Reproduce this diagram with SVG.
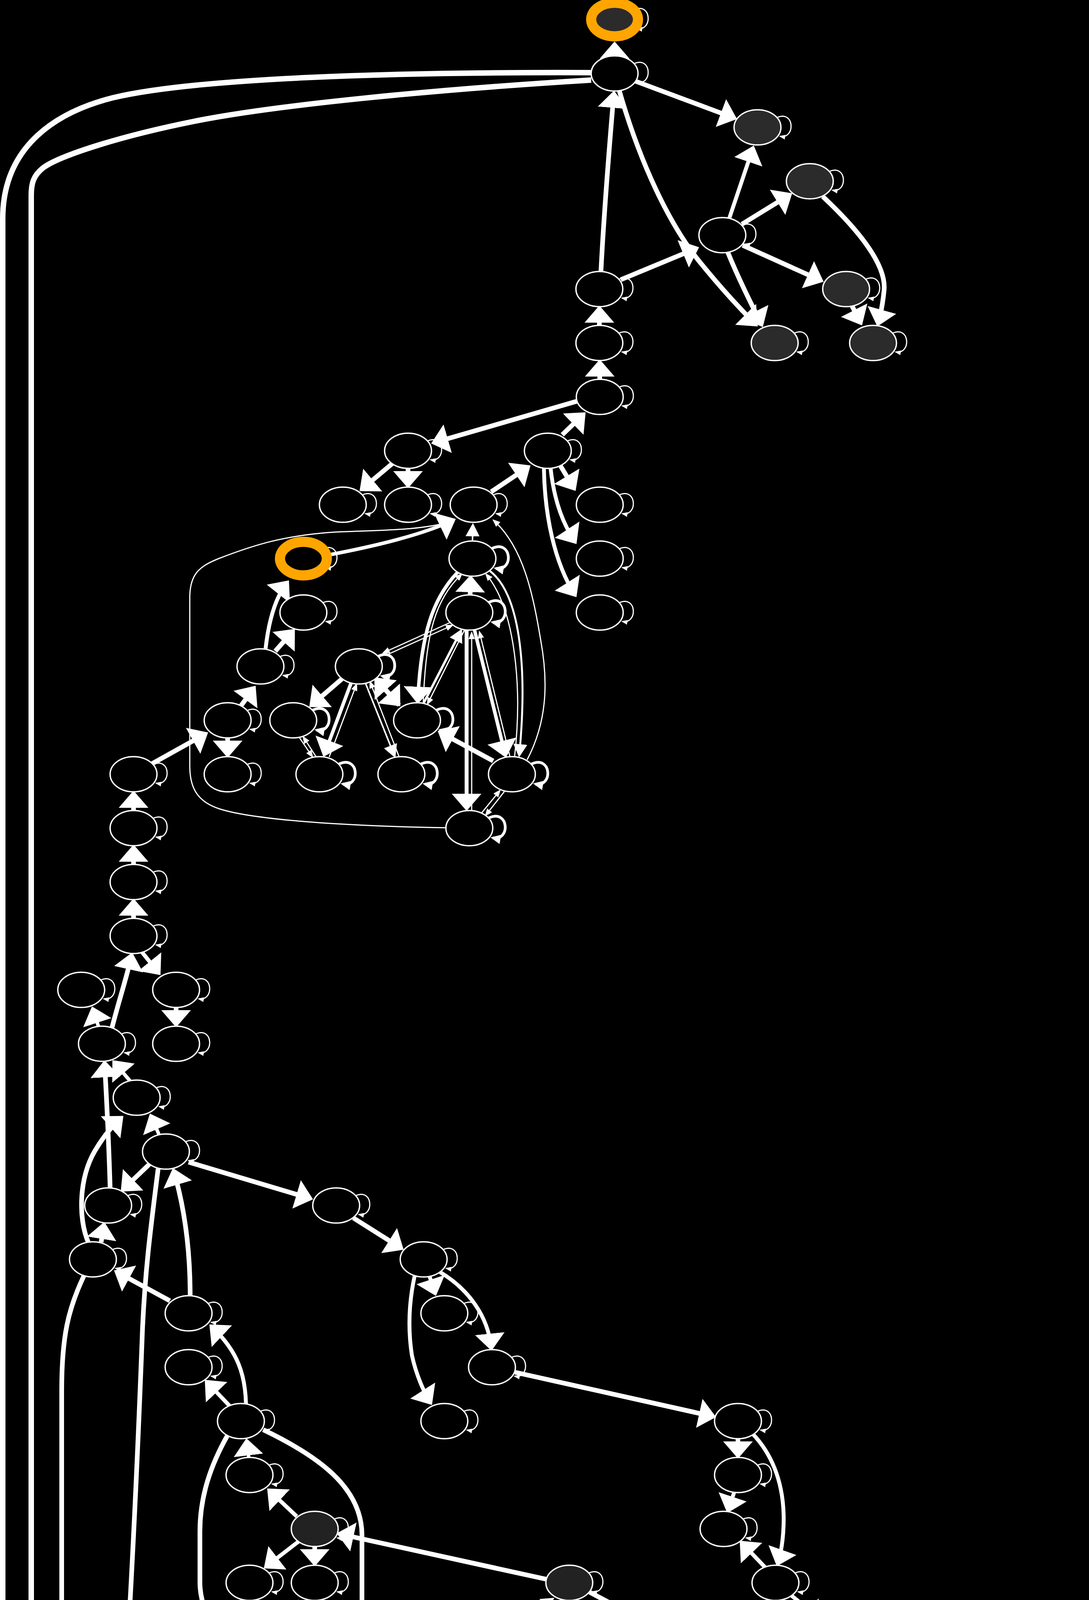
<svg xmlns="http://www.w3.org/2000/svg" xmlns:xlink="http://www.w3.org/1999/xlink" width="2789" height="7125" viewBox="0 0 2789 7125">
<style>
.e{fill:none;stroke:#fff;stroke-linecap:butt}
.w14{stroke-width:14}.w12{stroke-width:12}.w10{stroke-width:10}.w9{stroke-width:9}.w6{stroke-width:6}.w5{stroke-width:5}.w4{stroke-width:4}.w3{stroke-width:3}
.nd{stroke:#fff;stroke-width:3.5}
.b{fill:#000}.d{fill:#2b2b2b}.d2{fill:#222}.g{fill:#444}
.or{stroke:#FFA500;stroke-width:26}
.bl{stroke:#0000FF;stroke-width:26}
.lp{fill:none;stroke:#fff;stroke-width:3}
.lpb{fill:none;stroke:#fff;stroke-width:7}
.t{font-family:"Liberation Sans",Arial,sans-serif;font-size:50px;fill:#fff}
</style>
<defs>
<marker id="ah" markerUnits="userSpaceOnUse" markerWidth="44" markerHeight="78" viewBox="0 0 44 78" refX="36" refY="39" orient="auto"><path d="M0,1 L44,39 L0,77 Z" fill="#fff"/></marker>
<marker id="am" markerUnits="userSpaceOnUse" markerWidth="34" markerHeight="36" viewBox="0 0 34 36" refX="27" refY="18" orient="auto"><path d="M0,0 L34,18 L0,36 Z" fill="#fff"/></marker>
<marker id="as" markerUnits="userSpaceOnUse" markerWidth="20" markerHeight="16" viewBox="0 0 20 16" refX="16" refY="8" orient="auto"><path d="M0,0 L20,8 L0,16 Z" fill="#fff"/></marker>
<marker id="al" markerUnits="userSpaceOnUse" markerWidth="16" markerHeight="12" viewBox="0 0 16 12" refX="13" refY="6" orient="auto"><path d="M0,0 L16,6 L0,12 Z" fill="#fff"/></marker>
<marker id="alb" markerUnits="userSpaceOnUse" markerWidth="26" markerHeight="24" viewBox="0 0 26 24" refX="20" refY="12" orient="auto"><path d="M0,0 L26,12 L0,24 Z" fill="#fff"/></marker>
<path id="lp" class="lp" d="M50,-25 C95,-45 98,30 58,23" marker-end="url(#al)"/>
<path id="lpb" class="lpb" d="M50,-26 C102,-50 106,34 60,25" marker-end="url(#alb)"/>
</defs>
<rect x="0" y="0" width="2789" height="7125" fill="#000"/>
<g id="edges">
<path class="e w12" marker-end="url(#ah)" d="M1574,143 L1574,114"/>
<path class="e w12" marker-end="url(#ah)" d="M1628,208 L1880,302"/>
<path class="e w10" marker-end="url(#ah)" d="M1868,558 L1928,380"/>
<path class="e w12" marker-end="url(#ah)" d="M1900,574 L2022,499"/>
<path class="e w12" marker-end="url(#ah)" d="M1902,628 L2102,718"/>
<path class="e w12" marker-end="url(#ah)" d="M1864,646 C1890,710 1920,770 1950,830"/>
<path class="e w12" marker-end="url(#ah)" d="M1539,696 C1548,520 1562,360 1572,240"/>
<path class="e w12" marker-end="url(#ah)" d="M1586,232 C1640,420 1715,575 1790,668 C1850,742 1895,790 1935,830"/>
<path class="e w12" marker-end="url(#ah)" d="M1590,716 L1783,636"/>
<path class="e w12" marker-end="url(#ah)" d="M2107,503 C2200,590 2272,680 2264,745 C2260,785 2254,810 2249,828"/>
<path class="e w12" marker-end="url(#ah)" d="M2182,783 L2204,826"/>
<path class="e w12" marker-end="url(#ah)" d="M1535,833 L1535,790"/>
<path class="e w12" marker-end="url(#ah)" d="M1536,971 L1536,928"/>
<path class="e w12" marker-end="url(#ah)" d="M1478,1027 L1112,1133"/>
<path class="e w12" marker-end="url(#ah)" d="M1440,1113 L1494,1061"/>
<path class="e w12" marker-end="url(#ah)" d="M1008,1184 L927,1252"/>
<path class="e w12" marker-end="url(#ah)" d="M1045,1199 L1045,1242"/>
<path class="e w12" marker-end="url(#ah)" d="M1258,1259 L1352,1196"/>
<path class="e w12" marker-end="url(#ah)" d="M1435,1192 L1470,1250"/>
<path class="e w10" marker-end="url(#ah)" d="M1410,1198 C1420,1290 1445,1345 1472,1386"/>
<path class="e w10" marker-end="url(#ah)" d="M1393,1199 C1395,1320 1420,1440 1472,1522"/>
<path class="e w9" marker-end="url(#ah)" d="M845,1420 C950,1400 1080,1370 1160,1332"/>
<path class="e w4" marker-end="url(#am)" d="M1210,1385 L1211,1346"/>
<path class="e w10" marker-end="url(#ah)" d="M680,1662 C688,1590 705,1530 735,1492"/>
<path class="e w12" marker-end="url(#ah)" d="M705,1667 L750,1616"/>
<path class="e w12" marker-end="url(#ah)" d="M617,1807 L650,1762"/>
<path class="e w12" marker-end="url(#ah)" d="M583,1889 L583,1932"/>
<path class="e w12" marker-end="url(#ah)" d="M386,1957 L526,1879"/>
<path class="e w12" marker-end="url(#ah)" d="M878,1736 L798,1805"/>
<path class="e w9" marker-end="url(#ah)" d="M899,1749 L831,1930"/>
<path class="e w3" marker-end="url(#as)" d="M843,1938 L913,1752"/>
<path class="e w4" marker-end="url(#am)" d="M936,1749 L1010,1934"/>
<path class="e w3" marker-end="url(#as)" d="M1022,1937 L948,1746"/>
<path class="e w12" marker-end="url(#ah)" d="M962,1737 L1020,1802"/>
<path class="e w12" marker-end="url(#ah)" d="M1022,1805 L964,1740"/>
<path class="e w3" marker-end="url(#as)" d="M1152,1594 L982,1671"/>
<path class="e w3" marker-end="url(#as)" d="M987,1678 L1158,1601"/>
<path class="e w3" marker-end="url(#as)" d="M766,1887 L800,1937"/>
<path class="e w3" marker-end="url(#as)" d="M810,1938 L777,1887"/>
<path class="e w12" marker-end="url(#ah)" d="M1263,1948 L1128,1875"/>
<path class="e w9" marker-end="url(#ah)" d="M1172,1465 C1110,1530 1078,1620 1070,1794"/>
<path class="e w3" marker-end="url(#as)" d="M1084,1800 C1090,1620 1115,1535 1182,1470"/>
<path class="e w6" marker-end="url(#am)" d="M1085,1800 L1180,1616"/>
<path class="e w3" marker-end="url(#as)" d="M1190,1612 L1095,1802"/>
<path class="e w10" marker-end="url(#ah)" d="M1195,1613 L1195,2068"/>
<path class="e w3" marker-end="url(#as)" d="M1208,2075 L1208,1620"/>
<path class="e w9" marker-end="url(#ah)" d="M1215,1612 L1294,1932"/>
<path class="e w3" marker-end="url(#as)" d="M1306,1937 L1228,1618"/>
<path class="e w5" marker-end="url(#am)" d="M1255,1462 C1330,1520 1352,1700 1330,1932"/>
<path class="e w3" marker-end="url(#as)" d="M1318,1936 C1338,1760 1320,1560 1245,1470"/>
<path class="e w3" marker-end="url(#as)" d="M1350,1945 C1400,1850 1405,1750 1385,1640 C1365,1520 1340,1400 1264,1332"/>
<path class="e w3" marker-end="url(#as)" d="M1232,2083 L1280,2024"/>
<path class="e w3" marker-end="url(#as)" d="M1292,2026 L1244,2087"/>
<path class="e w12" marker-end="url(#ah)" d="M1204,1523 L1205,1480"/>
<path class="e w3" marker-end="url(#as)" d="M1142,2119 C900,2115 650,2100 560,2070 C500,2050 486,2010 486,1960 L486,1530 C486,1470 510,1450 560,1430 C650,1395 730,1370 860,1362 C980,1357 1080,1358 1160,1334"/>
<path class="e w12" marker-end="url(#ah)" d="M342,2075 L342,2032"/>
<path class="e w12" marker-end="url(#ah)" d="M342,2213 L342,2170"/>
<path class="e w12" marker-end="url(#ah)" d="M342,2351 L342,2308"/>
<path class="e w12" marker-end="url(#ah)" d="M287,2630 C305,2560 325,2500 337,2446"/>
<path class="e w10" marker-end="url(#ah)" d="M364,2438 L406,2490"/>
<path class="e w9" marker-end="url(#ah)" d="M252,2627 L238,2584"/>
<path class="e w12" marker-end="url(#ah)" d="M451,2579 L451,2622"/>
<path class="e w9" marker-end="url(#ah)" d="M333,2767 L293,2720"/>
<path class="e w12" marker-end="url(#ah)" d="M282,3041 C278,2900 272,2800 268,2722"/>
<path class="e w9" marker-end="url(#ah)" d="M407,2904 L387,2858"/>
<path class="e w12" marker-end="url(#ah)" d="M226,3180 C200,3120 200,3010 250,2935 C270,2903 292,2878 310,2862"/>
<path class="e w12" marker-end="url(#ah)" d="M383,2980 L315,3045"/>
<path class="e w12" marker-end="url(#ah)" d="M483,2975 L794,3068"/>
<path class="e w12" marker-end="url(#ah)" d="M905,3118 L1027,3195"/>
<path class="e w12" marker-end="url(#ah)" d="M259,3180 L266,3136"/>
<path class="e w12" marker-end="url(#ah)" d="M487,3317 C487,3200 472,3090 445,2998"/>
<path class="e w12" marker-end="url(#ah)" d="M405,2992 C385,3150 372,3250 365,3400 C350,3800 330,4200 305,4550 C290,4800 262,5000 240,5104"/>
<path class="e w12" marker-end="url(#ah)" d="M215,3266 C175,3350 158,3420 158,3560 L158,4880 C158,4980 175,5050 196,5106"/>
<path class="e w10" marker-end="url(#ah)" d="M1100,3267 L1114,3310"/>
<path class="e w10" marker-end="url(#ah)" d="M1126,3256 C1200,3300 1250,3370 1258,3450"/>
<path class="e w10" marker-end="url(#ah)" d="M1062,3266 C1048,3330 1044,3400 1055,3470 C1066,3520 1086,3565 1102,3590"/>
<path class="e w12" marker-end="url(#ah)" d="M1319,3513 L1826,3626"/>
<path class="e w12" marker-end="url(#ah)" d="M435,3330 L299,3256"/>
<path class="e w10" marker-end="url(#ah)" d="M630,3594 C628,3520 610,3460 542,3396"/>
<path class="e w10" marker-end="url(#ah)" d="M588,3599 L530,3538"/>
<path class="e w9" marker-end="url(#ah)" d="M637,3731 L632,3690"/>
<path class="e w12" marker-end="url(#ah)" d="M583,3674 C540,3750 512,3830 512,3920 L512,4050 C512,4170 620,4250 710,4304"/>
<path class="e w12" marker-end="url(#ah)" d="M674,3660 C820,3730 927,3810 927,3930 L927,4330 C927,4420 895,4490 862,4556"/>
<path class="e w10" marker-end="url(#ah)" d="M760,3882 L690,3816"/>
<path class="e w10" marker-end="url(#ah)" d="M765,3946 L682,4010"/>
<path class="e w12" marker-end="url(#ah)" d="M806,3959 L806,4002"/>
<path class="e w10" marker-end="url(#ah)" d="M802,4097 L790,4140"/>
<path class="e w10" marker-end="url(#ah)" d="M781,4235 L776,4278"/>
<path class="e w10" marker-end="url(#ah)" d="M772,4373 L772,4416"/>
<path class="e w12" marker-end="url(#ah)" d="M1400,4043 L870,3927"/>
<path class="e w6" marker-end="url(#am)" d="M1458,4145 L1458,4106"/>
<path class="e w5" marker-end="url(#am)" d="M1416,4218 L1320,4290"/>
<path class="e w5" marker-end="url(#am)" d="M1095,4427 C1150,4330 1250,4200 1414,4094"/>
<path class="e w5" marker-end="url(#am)" d="M1108,4440 L1226,4362"/>
<path class="e w5" marker-end="url(#am)" d="M1119,4483 C1250,4520 1340,4550 1398,4576"/>
<path class="e w5" marker-end="url(#am)" d="M1456,4235 C1451,4350 1448,4480 1447,4554"/>
<path class="e w5" marker-end="url(#am)" d="M1471,4233 C1530,4400 1600,4600 1630,4680 C1648,4730 1651,4760 1651,4800 L1651,4900 C1648,4990 1600,5050 1555,5106"/>
<path class="e w12" marker-end="url(#ah)" d="M1510,4076 L1684,4168"/>
<path class="e w12" marker-end="url(#ah)" d="M2119,4320 L1523,4200"/>
<path class="e w9" marker-end="url(#ah)" d="M1745,4235 L1747,4278"/>
<path class="e w9" marker-end="url(#ah)" d="M1749,4373 L1749,4416"/>
<path class="e w9" marker-end="url(#ah)" d="M2178,4421 L2178,4378"/>
<path class="e w9" marker-end="url(#ah)" d="M2178,4559 L2178,4516"/>
<path class="e w10" marker-end="url(#ah)" d="M2148,4640 L2094,4695"/>
<path class="e w10" marker-end="url(#ah)" d="M2268,4703 L2220,4648"/>
<path class="e w12" marker-end="url(#ah)" d="M1890,3683 L1890,3726"/>
<path class="e w10" marker-end="url(#ah)" d="M1880,3821 L1865,3866"/>
<path class="e w10" marker-end="url(#ah)" d="M1927,3670 C1975,3720 2005,3790 2007,3880 C2008,3940 1998,3985 1992,4002"/>
<path class="e w10" marker-end="url(#ah)" d="M1962,4015 L1900,3950"/>
<path class="e w10" marker-end="url(#ah)" d="M1986,4097 L1986,4140"/>
<path class="e w10" marker-end="url(#ah)" d="M2025,4083 L2100,4144"/>
<path class="e w5" marker-end="url(#am)" d="M1083,4508 C1140,4570 1180,4620 1210,4660 C1270,4750 1400,4990 1474,5106"/>
<path class="e w12" marker-end="url(#ah)" d="M650,4589 C750,4560 900,4510 994,4486"/>
<path class="e w12" marker-end="url(#ah)" d="M792,4507 L814,4554"/>
<path class="e w10" marker-end="url(#ah)" d="M507,4703 L556,4652"/>
<path class="e w10" marker-end="url(#ah)" d="M598,4649 L606,4690"/>
<path class="e w10" marker-end="url(#ah)" d="M825,4648 L810,4690"/>
<path class="e w10" marker-end="url(#ah)" d="M1030,4506 L876,4828"/>
<path class="e w10" marker-end="url(#ah)" d="M1072,4510 L1124,4692"/>
<path class="e w10" marker-end="url(#ah)" d="M1046,4510 C1044,4640 1055,4770 1085,4870 C1100,4920 1118,4955 1130,4970"/>
<path class="e w10" marker-end="url(#ah)" d="M463,4799 L465,4830"/>
<path class="e w10" marker-end="url(#ah)" d="M770,4780 L732,4832"/>
<path class="e w12" marker-end="url(#ah)" d="M632,4896 L408,4985"/>
<path class="e w9" marker-end="url(#ah)" d="M480,4924 L500,4968"/>
<path class="e w10" marker-end="url(#ah)" d="M686,4925 L686,4968"/>
<path class="e w12" marker-end="url(#ah)" d="M728,4913 L803,4980"/>
<path class="e w10" marker-end="url(#ah)" d="M518,5063 L518,5106"/>
<path class="e w10" marker-end="url(#ah)" d="M518,5201 L518,5244"/>
<path class="e w10" marker-end="url(#ah)" d="M854,5063 L854,5106"/>
<path class="e w12" marker-end="url(#ah)" d="M266,5120 L316,5066"/>
<path class="e w10" marker-end="url(#ah)" d="M242,5199 L263,5244"/>
<path class="e w12" marker-end="url(#ah)" d="M2161,4973 L2161,4944"/>
<path class="e w12" marker-end="url(#ah)" d="M2212,4988 C2270,4920 2295,4860 2305,4792"/>
<path class="e w12" marker-end="url(#ah)" d="M2316,4800 C2345,4900 2390,5030 2420,5140 C2432,5190 2440,5220 2444,5246"/>
<path class="e w12" marker-end="url(#ah)" d="M2102,5022 C1980,5040 1850,5070 1740,5122"/>
<path class="e w10" marker-end="url(#ah)" d="M2161,5063 L2161,5106"/>
<path class="e w12" marker-end="url(#ah)" d="M2200,5050 L2276,5126"/>
<path class="e w10" marker-end="url(#ah)" d="M2358,5194 L2414,5244"/>
<path class="e w10" marker-end="url(#ah)" d="M2420,5326 L2368,5384"/>
<path class="e w12" marker-end="url(#ah)" d="M2454,5339 L2454,5700 C2452,5790 2440,5880 2427,5934"/>
<path class="e w12" marker-end="url(#ah)" d="M2477,5339 C2520,5430 2544,5520 2544,5640 L2544,5900 C2544,5980 2540,6030 2534,6070"/>
<path class="e w12" marker-end="url(#ah)" d="M2478,6008 L2640,6090"/>
<path class="e w10" marker-end="url(#ah)" d="M2280,5462 L2206,5528"/>
<path class="e w10" marker-end="url(#ah)" d="M2164,5615 L2164,5658"/>
<path class="e w10" marker-end="url(#ah)" d="M2123,5602 L2040,5672"/>
<path class="e w10" marker-end="url(#ah)" d="M2164,5801 L2164,5758"/>
<path class="e w10" marker-end="url(#ah)" d="M2117,5735 L2010,5814"/>
<path class="e w12" marker-end="url(#ah)" d="M2115,5735 C2020,5790 1900,5805 1760,5825 C1650,5845 1625,5880 1625,5980 L1625,6150 C1625,6250 1650,6310 1676,6356"/>
<path class="e w12" marker-end="url(#ah)" d="M2003,5875 L2118,5950"/>
<path class="e w10" marker-end="url(#ah)" d="M1950,5892 L1905,6060"/>
<path class="e w10" marker-end="url(#ah)" d="M1932,5886 C1880,5970 1820,6060 1810,6140 C1805,6180 1815,6205 1832,6222"/>
<path class="e w12" marker-end="url(#ah)" d="M1979,5891 C2040,6060 2093,6200 2093,6300 L2093,6400 C2093,6520 2000,6600 1918,6650"/>
<path class="e w12" marker-end="url(#ah)" d="M2373,5952 L2220,5870"/>
<path class="e w10" marker-end="url(#ah)" d="M2212,6022 L2237,6064"/>
<path class="e w10" marker-end="url(#ah)" d="M2183,6029 L2196,6206"/>
<path class="e w10" marker-end="url(#ah)" d="M2235,6011 C2330,6060 2370,6075 2382,6150 C2395,6240 2385,6300 2374,6348"/>
<path class="e w10" marker-end="url(#ah)" d="M1751,6366 L1853,6290"/>
<path class="e w10" marker-end="url(#ah)" d="M1730,6441 L1754,6488"/>
<path class="e w12" marker-end="url(#ah)" d="M1689,6440 C1680,6520 1700,6600 1796,6656"/>
<path class="e w10" marker-end="url(#ah)" d="M2031,4785 L2010,4830"/>
<path class="e w10" marker-end="url(#ah)" d="M1598,5401 C1640,5360 1665,5300 1677,5204"/>
<path class="e w10" marker-end="url(#ah)" d="M1553,5387 L1548,5344"/>
<path class="e w10" marker-end="url(#ah)" d="M1558,5525 L1557,5482"/>
<path class="e w10" marker-end="url(#ah)" d="M1442,5662 C1465,5570 1485,5520 1520,5480"/>
<path class="e w12" marker-end="url(#ah)" d="M1599,5534 L2104,5066"/>
<path class="e w10" marker-end="url(#ah)" d="M1428,5801 L1428,5758"/>
<path class="e w10" marker-end="url(#ah)" d="M1471,5813 C1520,5760 1555,5700 1564,5622"/>
<path class="e w12" marker-end="url(#ah)" d="M902,5976 L1364,5867"/>
<path class="e w10" marker-end="url(#ah)" d="M749,6085 L810,6030"/>
<path class="e w9" marker-end="url(#ah)" d="M800,6217 C815,6160 830,6090 844,6036"/>
<path class="e w14" marker-end="url(#ah)" d="M1514,205 C1100,230 700,270 500,310 C300,350 150,400 110,430 C85,450 80,470 80,500 L80,5848 C80,5990 260,6100 645,6122"/>
<path class="e w14" marker-end="url(#ah)" d="M1514,186 C1000,184 500,200 290,250 C150,285 7,370 7,560 L7,5990 C7,6110 340,6200 712,6254"/>
</g>
<g id="A0"><use href="#lp" x="1574" y="50"/><ellipse class="d or" cx="1574" cy="50" rx="60" ry="43"/></g>
<g id="A1"><use href="#lp" x="1574" y="188"/><ellipse class="nd b" cx="1574" cy="188" rx="60" ry="45"/></g>
<g id="A2"><use href="#lp" x="1940" y="326"/><ellipse class="nd d" cx="1940" cy="326" rx="60" ry="45"/></g>
<g id="A3"><use href="#lp" x="2074" y="464"/><ellipse class="nd d" cx="2074" cy="464" rx="60" ry="45"/></g>
<g id="A4"><use href="#lp" x="1850" y="602"/><ellipse class="nd b" cx="1850" cy="602" rx="60" ry="45"/></g>
<g id="A5"><use href="#lp" x="1535" y="740"/><ellipse class="nd b" cx="1535" cy="740" rx="60" ry="45"/></g>
<g id="A6"><use href="#lp" x="2167" y="740"/><ellipse class="nd d" cx="2167" cy="740" rx="60" ry="45"/></g>
<g id="A7"><use href="#lp" x="1535" y="878"/><ellipse class="nd b" cx="1535" cy="878" rx="60" ry="45"/></g>
<g id="A8"><use href="#lp" x="1984" y="878"/><ellipse class="nd d" cx="1984" cy="878" rx="60" ry="45"/></g>
<g id="A9"><use href="#lp" x="2236" y="878"/><ellipse class="nd d" cx="2236" cy="878" rx="60" ry="45"/></g>
<g id="B0"><use href="#lp" x="1536" y="1016"/><ellipse class="nd b" cx="1536" cy="1016" rx="60" ry="45"/></g>
<g id="B1"><use href="#lp" x="1045" y="1154"/><ellipse class="nd b" cx="1045" cy="1154" rx="60" ry="45"/></g>
<g id="B2"><use href="#lp" x="1403" y="1154"/><ellipse class="nd b" cx="1403" cy="1154" rx="60" ry="45"/></g>
<g id="B3"><use href="#lp" x="878" y="1292"/><ellipse class="nd b" cx="878" cy="1292" rx="60" ry="45"/></g>
<g id="B4"><use href="#lp" x="1045" y="1292"/><ellipse class="nd b" cx="1045" cy="1292" rx="60" ry="45"/></g>
<g id="B5"><use href="#lp" x="1213" y="1292"/><ellipse class="nd b" cx="1213" cy="1292" rx="60" ry="45"/></g>
<g id="B6"><use href="#lp" x="1536" y="1292"/><ellipse class="nd b" cx="1536" cy="1292" rx="60" ry="45"/></g>
<g id="B7"><use href="#lp" x="777" y="1430"/><ellipse class="b or" cx="777" cy="1430" rx="60" ry="43"/></g>
<g id="B8"><use href="#lpb" x="1210" y="1430"/><ellipse class="nd b" cx="1210" cy="1430" rx="60" ry="45"/></g>
<g id="B9"><use href="#lp" x="1536" y="1430"/><ellipse class="nd b" cx="1536" cy="1430" rx="60" ry="45"/></g>
<g id="B10"><use href="#lp" x="777" y="1568"/><ellipse class="nd b" cx="777" cy="1568" rx="60" ry="45"/></g>
<g id="B11"><use href="#lpb" x="1202" y="1568"/><ellipse class="nd b" cx="1202" cy="1568" rx="60" ry="45"/></g>
<g id="B12"><use href="#lp" x="1536" y="1568"/><ellipse class="nd b" cx="1536" cy="1568" rx="60" ry="45"/></g>
<g id="B13"><use href="#lp" x="667" y="1706"/><ellipse class="nd b" cx="667" cy="1706" rx="60" ry="45"/></g>
<g id="B14"><use href="#lpb" x="919" y="1706"/><ellipse class="nd b" cx="919" cy="1706" rx="60" ry="45"/></g>
<g id="B15"><use href="#lp" x="583" y="1844"/><ellipse class="nd b" cx="583" cy="1844" rx="60" ry="45"/></g>
<g id="B16"><use href="#lpb" x="751" y="1844"/><ellipse class="nd b" cx="751" cy="1844" rx="60" ry="45"/></g>
<g id="B17"><use href="#lpb" x="1068" y="1844"/><ellipse class="nd b" cx="1068" cy="1844" rx="60" ry="45"/></g>
<g id="B18"><use href="#lp" x="583" y="1982"/><ellipse class="nd b" cx="583" cy="1982" rx="60" ry="45"/></g>
<g id="B19"><use href="#lpb" x="818" y="1982"/><ellipse class="nd b" cx="818" cy="1982" rx="60" ry="45"/></g>
<g id="B20"><use href="#lpb" x="1028" y="1982"/><ellipse class="nd b" cx="1028" cy="1982" rx="60" ry="45"/></g>
<g id="B21"><use href="#lpb" x="1311" y="1982"/><ellipse class="nd b" cx="1311" cy="1982" rx="60" ry="45"/></g>
<g id="B22"><use href="#lpb" x="1202" y="2120"/><ellipse class="nd b" cx="1202" cy="2120" rx="60" ry="45"/></g>
<g id="C0"><use href="#lp" x="342" y="1982"/><ellipse class="nd b" cx="342" cy="1982" rx="60" ry="45"/></g>
<g id="C1"><use href="#lp" x="342" y="2120"/><ellipse class="nd b" cx="342" cy="2120" rx="60" ry="45"/></g>
<g id="C2"><use href="#lp" x="342" y="2258"/><ellipse class="nd b" cx="342" cy="2258" rx="60" ry="45"/></g>
<g id="C3"><use href="#lp" x="342" y="2396"/><ellipse class="nd b" cx="342" cy="2396" rx="60" ry="45"/></g>
<g id="C4"><use href="#lp" x="208" y="2534"/><ellipse class="nd b" cx="208" cy="2534" rx="60" ry="45"/></g>
<g id="C5"><use href="#lp" x="451" y="2534"/><ellipse class="nd b" cx="451" cy="2534" rx="60" ry="45"/></g>
<g id="C6"><use href="#lp" x="261" y="2672"/><ellipse class="nd b" cx="261" cy="2672" rx="60" ry="45"/></g>
<g id="C7"><use href="#lp" x="451" y="2672"/><ellipse class="nd b" cx="451" cy="2672" rx="60" ry="45"/></g>
<g id="C8"><use href="#lp" x="350" y="2810"/><ellipse class="nd b" cx="350" cy="2810" rx="60" ry="45"/></g>
<g id="C9"><use href="#lp" x="425" y="2948"/><ellipse class="nd b" cx="425" cy="2948" rx="60" ry="45"/></g>
<g id="C10"><use href="#lp" x="277" y="3086"/><ellipse class="nd b" cx="277" cy="3086" rx="60" ry="45"/></g>
<g id="C11"><use href="#lp" x="861" y="3086"/><ellipse class="nd b" cx="861" cy="3086" rx="60" ry="45"/></g>
<g id="C12"><use href="#lp" x="238" y="3224"/><ellipse class="nd b" cx="238" cy="3224" rx="60" ry="45"/></g>
<g id="C13"><use href="#lp" x="1085" y="3224"/><ellipse class="nd b" cx="1085" cy="3224" rx="60" ry="45"/></g>
<g id="D0"><use href="#lp" x="483" y="3362"/><ellipse class="nd b" cx="483" cy="3362" rx="60" ry="45"/></g>
<g id="D1"><use href="#lp" x="1138" y="3362"/><ellipse class="nd b" cx="1138" cy="3362" rx="60" ry="45"/></g>
<g id="D2"><use href="#lp" x="483" y="3500"/><ellipse class="nd b" cx="483" cy="3500" rx="60" ry="45"/></g>
<g id="D3"><use href="#lp" x="1260" y="3500"/><ellipse class="nd b" cx="1260" cy="3500" rx="60" ry="45"/></g>
<g id="D4"><use href="#lp" x="617" y="3638"/><ellipse class="nd b" cx="617" cy="3638" rx="60" ry="45"/></g>
<g id="D5"><use href="#lp" x="1138" y="3638"/><ellipse class="nd b" cx="1138" cy="3638" rx="60" ry="45"/></g>
<g id="D6"><use href="#lp" x="1890" y="3638"/><ellipse class="nd b" cx="1890" cy="3638" rx="60" ry="45"/></g>
<g id="D7"><use href="#lp" x="639" y="3776"/><ellipse class="nd b" cx="639" cy="3776" rx="60" ry="45"/></g>
<g id="D8"><use href="#lp" x="1890" y="3776"/><ellipse class="nd b" cx="1890" cy="3776" rx="60" ry="45"/></g>
<g id="D9"><use href="#lp" x="806" y="3914"/><ellipse class="nd d2" cx="806" cy="3914" rx="60" ry="45"/></g>
<g id="D10"><use href="#lp" x="1853" y="3914"/><ellipse class="nd b" cx="1853" cy="3914" rx="60" ry="45"/></g>
<g id="D11"><use href="#lp" x="639" y="4052"/><ellipse class="nd b" cx="639" cy="4052" rx="60" ry="45"/></g>
<g id="D12"><use href="#lp" x="806" y="4052"/><ellipse class="nd b" cx="806" cy="4052" rx="60" ry="45"/></g>
<g id="D13"><use href="#lp" x="1458" y="4052"/><ellipse class="nd d2" cx="1458" cy="4052" rx="60" ry="45"/></g>
<g id="D14"><use href="#lp" x="1986" y="4052"/><ellipse class="nd b" cx="1986" cy="4052" rx="60" ry="45"/></g>
<g id="D15"><use href="#lp" x="784" y="4190"/><ellipse class="nd b" cx="784" cy="4190" rx="60" ry="45"/></g>
<g id="D16"><ellipse class="nd g" cx="1458" cy="4190" rx="60" ry="45"/></g>
<g id="D17"><use href="#lp" x="1743" y="4190"/><ellipse class="nd d2" cx="1743" cy="4190" rx="60" ry="45"/></g>
<g id="D18"><use href="#lp" x="1986" y="4190"/><ellipse class="nd b" cx="1986" cy="4190" rx="60" ry="45"/></g>
<g id="D19"><use href="#lp" x="2153" y="4190"/><ellipse class="nd b" cx="2153" cy="4190" rx="60" ry="45"/></g>
<g id="D20"><use href="#lp" x="772" y="4328"/><ellipse class="nd b" cx="772" cy="4328" rx="60" ry="45"/></g>
<g id="D21"><use href="#lp" x="1275" y="4328"/><ellipse class="nd d2" cx="1275" cy="4328" rx="60" ry="45"/></g>
<g id="D22"><use href="#lp" x="1749" y="4328"/><ellipse class="nd b" cx="1749" cy="4328" rx="60" ry="45"/></g>
<g id="D23"><use href="#lp" x="2178" y="4328"/><ellipse class="nd d" cx="2178" cy="4328" rx="60" ry="45"/></g>
<g id="E0"><use href="#lp" x="772" y="4466"/><ellipse class="nd b" cx="772" cy="4466" rx="60" ry="45"/></g>
<g id="E1"><ellipse class="nd b" cx="1060" cy="4466" rx="60" ry="45"/></g>
<g id="E2"><use href="#lp" x="1749" y="4466"/><ellipse class="nd b" cx="1749" cy="4466" rx="60" ry="45"/></g>
<g id="E3"><use href="#lp" x="2178" y="4466"/><ellipse class="nd d" cx="2178" cy="4466" rx="60" ry="45"/></g>
<g id="E4"><ellipse class="nd b" cx="594" cy="4604" rx="60" ry="45"/></g>
<g id="E5"><use href="#lp" x="835" y="4604"/><ellipse class="nd b" cx="835" cy="4604" rx="60" ry="45"/></g>
<g id="E6"><use href="#lp" x="1452" y="4604"/><ellipse class="nd d2" cx="1452" cy="4604" rx="60" ry="45"/></g>
<g id="E7"><use href="#lp" x="2178" y="4604"/><ellipse class="nd d" cx="2178" cy="4604" rx="60" ry="45"/></g>
<g id="E8"><ellipse class="b bl" cx="462" cy="4742" rx="60" ry="43"/></g>
<g id="E9"><ellipse class="nd b" cx="630" cy="4742" rx="60" ry="45"/></g>
<g id="E10"><use href="#lp" x="797" y="4742"/><ellipse class="nd b" cx="797" cy="4742" rx="60" ry="45"/></g>
<g id="E11"><ellipse class="nd b" cx="1153" cy="4742" rx="60" ry="45"/></g>
<g id="E12"><use href="#lp" x="2060" y="4742"/><ellipse class="nd d" cx="2060" cy="4742" rx="60" ry="45"/></g>
<g id="E13"><use href="#lp" x="2294" y="4742"/><ellipse class="nd d" cx="2294" cy="4742" rx="60" ry="45"/></g>
<g id="E14"><ellipse class="nd b" cx="473" cy="4880" rx="60" ry="45"/></g>
<g id="E15"><use href="#lp" x="686" y="4880"/><ellipse class="nd b" cx="686" cy="4880" rx="60" ry="45"/></g>
<g id="E16"><ellipse class="nd b" cx="854" cy="4880" rx="60" ry="45"/></g>
<g id="E17"><use href="#lp" x="1993" y="4880"/><ellipse class="nd d" cx="1993" cy="4880" rx="60" ry="45"/></g>
<g id="E18"><use href="#lp" x="2161" y="4880"/><ellipse class="d or" cx="2161" cy="4880" rx="60" ry="43"/></g>
<g id="E19"><use href="#lp" x="351" y="5018"/><ellipse class="nd b" cx="351" cy="5018" rx="60" ry="45"/></g>
<g id="E20"><ellipse class="nd b" cx="518" cy="5018" rx="60" ry="45"/></g>
<g id="E21"><use href="#lp" x="686" y="5018"/><ellipse class="nd b" cx="686" cy="5018" rx="60" ry="45"/></g>
<g id="E22"><use href="#lp" x="854" y="5018"/><ellipse class="nd b" cx="854" cy="5018" rx="60" ry="45"/></g>
<g id="E23"><ellipse class="nd b" cx="1172" cy="5018" rx="60" ry="45"/></g>
<g id="E24"><use href="#lp" x="2161" y="5018"/><ellipse class="nd d" cx="2161" cy="5018" rx="60" ry="45"/></g>
<g id="F0"><use href="#lp" x="229" y="5156"/><ellipse class="nd b" cx="229" cy="5156" rx="60" ry="45"/></g>
<g id="F1"><ellipse class="nd b" cx="518" cy="5156" rx="60" ry="45"/></g>
<g id="F2"><use href="#lp" x="854" y="5156"/><ellipse class="nd b" cx="854" cy="5156" rx="60" ry="45"/></g>
<g id="F3"><ellipse class="nd b" cx="1062" cy="5156" rx="60" ry="45"/></g>
<g id="F4"><use href="#lp" x="1509" y="5156"/><ellipse class="nd d2" cx="1509" cy="5156" rx="60" ry="45"/></g>
<g id="F5"><use href="#lp" x="1676" y="5156"/><ellipse class="nd d" cx="1676" cy="5156" rx="60" ry="45"/></g>
<g id="F6"><use href="#lp" x="2161" y="5156"/><ellipse class="nd d" cx="2161" cy="5156" rx="60" ry="45"/></g>
<g id="F7"><use href="#lp" x="2328" y="5156"/><ellipse class="nd d" cx="2328" cy="5156" rx="60" ry="45"/></g>
<g id="F8"><use href="#lp" x="296" y="5294"/><ellipse class="nd b" cx="296" cy="5294" rx="60" ry="45"/></g>
<g id="F9"><ellipse class="nd b" cx="518" cy="5294" rx="60" ry="45"/></g>
<g id="F10"><use href="#lp" x="1543" y="5294"/><ellipse class="nd d" cx="1543" cy="5294" rx="60" ry="45"/></g>
<g id="F11"><use href="#lp" x="2461" y="5294"/><ellipse class="nd d" cx="2461" cy="5294" rx="60" ry="45"/></g>
<g id="F12"><use href="#lp" x="1555" y="5432"/><ellipse class="nd d" cx="1555" cy="5432" rx="60" ry="45"/></g>
<g id="F13"><use href="#lp" x="2321" y="5432"/><ellipse class="nd d" cx="2321" cy="5432" rx="60" ry="45"/></g>
<g id="F14"><use href="#lp" x="1559" y="5570"/><ellipse class="nd d" cx="1559" cy="5570" rx="60" ry="45"/></g>
<g id="F15"><use href="#lp" x="2164" y="5570"/><ellipse class="nd d" cx="2164" cy="5570" rx="60" ry="45"/></g>
<g id="F16"><use href="#lp" x="1428" y="5708"/><ellipse class="nd d" cx="1428" cy="5708" rx="60" ry="45"/></g>
<g id="F17"><use href="#lp" x="1996" y="5708"/><ellipse class="nd d" cx="1996" cy="5708" rx="60" ry="45"/></g>
<g id="F18"><use href="#lp" x="2164" y="5708"/><ellipse class="nd d" cx="2164" cy="5708" rx="60" ry="45"/></g>
<g id="F19"><use href="#lp" x="1428" y="5846"/><ellipse class="nd d" cx="1428" cy="5846" rx="60" ry="45"/></g>
<g id="F20"><use href="#lp" x="1964" y="5846"/><ellipse class="nd d" cx="1964" cy="5846" rx="60" ry="45"/></g>
<g id="F21"><use href="#lp" x="2164" y="5846"/><ellipse class="nd d" cx="2164" cy="5846" rx="60" ry="45"/></g>
<g id="G0"><use href="#lp" x="844" y="5984"/><ellipse class="nd d" cx="844" cy="5984" rx="60" ry="45"/></g>
<g id="G1"><use href="#lp" x="2178" y="5984"/><ellipse class="nd d" cx="2178" cy="5984" rx="60" ry="45"/></g>
<g id="G2"><use href="#lp" x="2423" y="5984"/><ellipse class="nd d" cx="2423" cy="5984" rx="60" ry="45"/></g>
<g id="G3"><use href="#lp" x="712" y="6122"/><ellipse class="nd d" cx="712" cy="6122" rx="60" ry="45"/></g>
<g id="G4"><use href="#lp" x="1896" y="6122"/><ellipse class="nd d" cx="1896" cy="6122" rx="60" ry="45"/></g>
<g id="G5"><use href="#lp" x="2290" y="6122"/><ellipse class="b or" cx="2290" cy="6122" rx="60" ry="43"/></g>
<g id="G6"><use href="#lp" x="2532" y="6122"/><ellipse class="nd d" cx="2532" cy="6122" rx="60" ry="45"/></g>
<g id="G7"><use href="#lp" x="2699" y="6122"/><ellipse class="nd d" cx="2699" cy="6122" rx="60" ry="45"/></g>
<g id="G8"><use href="#lp" x="779" y="6260"/><ellipse class="nd d" cx="779" cy="6260" rx="60" ry="45"/></g>
<g id="G9"><use href="#lp" x="1896" y="6260"/><ellipse class="nd d" cx="1896" cy="6260" rx="60" ry="45"/></g>
<g id="G10"><use href="#lp" x="2214" y="6260"/><ellipse class="nd b" cx="2214" cy="6260" rx="60" ry="45"/></g>
<g id="G11"><use href="#lp" x="1713" y="6398"/><ellipse class="nd d" cx="1713" cy="6398" rx="60" ry="45"/></g>
<g id="G12"><use href="#lp" x="2347" y="6398"/><ellipse class="nd b" cx="2347" cy="6398" rx="60" ry="45"/></g>
<g id="G13"><use href="#lp" x="1793" y="6536"/><ellipse class="nd d" cx="1793" cy="6536" rx="60" ry="45"/></g>
<g id="G14"><use href="#lp" x="1860" y="6674"/><ellipse class="nd d" cx="1860" cy="6674" rx="60" ry="45"/></g>
<g id="legend">
<text class="t" x="10" y="6870">Feature: t-2</text>
<text class="t" x="342" y="6870">steps shown as green -&gt; blue -&gt; red (early to late)</text>
<text class="t" x="10" y="6920">sensor input: [67]</text>
<text class="t" x="699" y="6920">t-1 output: 909</text>
<text class="t" x="699" y="6970">t-2 output: 961</text>
<text class="t" x="699" y="7020">t-3 output: 934</text>
<text class="t" x="699" y="7070">t-4 output: 976</text>
</g>
</svg>
